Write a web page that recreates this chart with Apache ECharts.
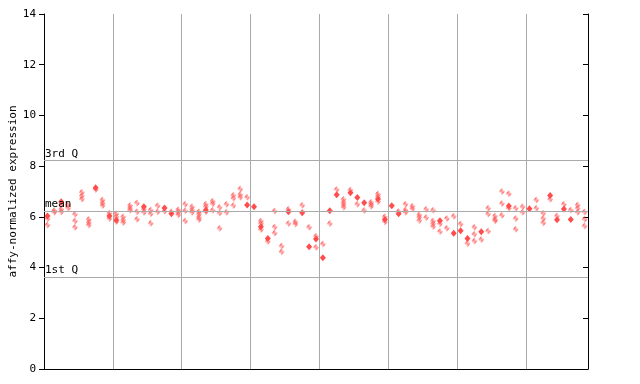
<!DOCTYPE html>
<html><head><meta charset="utf-8">
<script src="https://cdn.jsdelivr.net/npm/echarts@6/dist/echarts.min.js"></script>
<style>html,body{margin:0;padding:0;background:#fff}#c{width:640px;height:384px}</style>
</head><body><div id="c"></div>
<script>
// one entry per sample column (79 columns, 8 groups)
const hatchedValues = [
  [5.93,5.68],[6.25,6.18],[6.48,6.3,6.2],[6.48,6.35],[6.1,5.84,5.59],
  [6.97,6.83,6.7],[5.9,5.78,5.68],[7.08],[6.66,6.55,6.45],[6.14,5.94],
  [6.12,6.0,5.82],[6.0,5.88,5.78],[6.45,6.35,6.26],[6.55,6.2,5.91],[6.3,6.18],
  [6.27,6.12,5.75],[6.44,6.2],[6.22],[6.2],[6.28,6.18,6.08],
  [6.5,6.24,5.84],[6.4,6.28,6.18],[6.2,6.1,5.98,5.9],[6.5,6.4,6.2],[6.62,6.52,6.26],
  [6.38,6.15,5.55],[6.5,6.18],[6.85,6.73,6.45],[7.1,6.88,6.77],[6.77],
  [],[5.84,5.74,5.5],[5.03],[6.23,5.6,5.36],[4.85,4.62],
  [6.3,5.74],[5.81,5.72],[6.46],[5.59],[5.24,4.8],
  [4.93],[5.74],[7.08],[6.69,6.58,6.48,6.38],[7.06],
  [6.5],[6.25],[6.58,6.5,6.42],[6.9,6.8,6.61],[6.0,5.81],
  [],[6.21],[6.5,6.27,6.18],[6.42,6.32],[6.08,5.98,5.86],
  [6.3,5.97],[6.26,5.84,5.73,5.62],[5.73,5.42],[5.94,5.55],[6.02],
  [5.72],[4.95],[5.59,5.31,5.05],[5.11],[6.34,6.11,5.44],
  [6.03,5.91,5.85],[7.0,6.53,6.06],[6.91,6.34],[6.34,5.94,5.51],[6.4,6.18],
  [],[6.66,6.34],[6.14,5.94,5.77],[6.69],[6.03],
  [6.5],[6.27],[6.47,6.34,6.18],[6.19,5.91,5.64]
];
const solidValues = [
  [6.03],[],[6.6],[],[],
  [],[],[7.15],[],[6.03],
  [5.88],[],[],[],[6.4],
  [],[],[6.35],[6.12],[],
  [],[],[],[6.27],[],
  [],[],[],[],[6.47],
  [6.4],[5.61],[5.15],[],[],
  [6.2],[],[6.16],[4.82],[5.13],
  [4.39],[6.24],[6.87],[],[6.95],
  [6.76],[6.56],[],[6.7],[5.9],
  [6.44],[6.12],[],[],[],
  [],[],[5.85],[],[5.35],
  [5.45],[5.15],[],[5.41],[],
  [],[],[6.43],[],[],
  [6.32],[],[],[6.84],[5.89],
  [6.31],[5.9],[],[]
];
const columnCount = 79;
const groupSize = 10;
const yMin = 0, yMax = 14, yStep = 2;
const refLines = [
  {name: '3rd Q', value: 8.23},
  {name: 'mean', value: 6.23},
  {name: '1st Q', value: 3.63}
];
const yTitle = 'affy-normalized expression';

const RED = '#ff4d4d';
const FONT = 'DejaVu Sans Mono';
const FS = 11;

function toPoints(cols) {
  const out = [];
  cols.forEach((vals, i) => vals.forEach(v => out.push([i + 0.5, v])));
  return out;
}
const cv = document.createElement('canvas');
cv.width = 2; cv.height = 2;
const cx = cv.getContext('2d');
cx.fillStyle = RED;
cx.fillRect(0, 0, 1, 1);
cx.fillRect(1, 1, 1, 1);

const chart = echarts.init(document.getElementById('c'), null, {renderer: 'canvas'});
chart.setOption({
  animation: false,
  backgroundColor: '#fff',
  grid: {left: 44, right: 52, top: 14, bottom: 15, containLabel: false, outerBoundsMode: 'none'},
  xAxis: {
    type: 'value', min: 0, max: columnCount, interval: groupSize,
    axisLine: {show: true, lineStyle: {color: '#000', width: 1}},
    axisTick: {show: false}, axisLabel: {show: false},
    splitLine: {show: true, showMinLine: false, showMaxLine: false, lineStyle: {color: '#aaaaaa', width: 1}}
  },
  yAxis: [
    {
      type: 'value', min: yMin, max: yMax, interval: yStep, position: 'left',
      name: yTitle, nameLocation: 'middle', nameGap: 25, nameMoveOverlap: false,
      nameTextStyle: {fontFamily: FONT, fontSize: FS, color: '#000'},
      axisLine: {show: true, lineStyle: {color: '#000', width: 1}},
      axisTick: {show: true, length: 5, lineStyle: {color: '#000'}},
      axisLabel: {show: true, margin: 8, fontFamily: FONT, fontSize: FS, color: '#000'},
      splitLine: {show: false}
    },
    {
      type: 'value', min: yMin, max: yMax, interval: yStep, position: 'right',
      axisLine: {show: true, lineStyle: {color: '#000', width: 1}},
      axisTick: {show: true, inside: true, length: 5, lineStyle: {color: '#000'}},
      axisLabel: {show: false}, splitLine: {show: false}
    }
  ],
  series: [
    {
      type: 'scatter', yAxisIndex: 0, symbol: 'diamond', symbolSize: [6, 7],
      data: toPoints(hatchedValues),
      itemStyle: {color: {image: cv, repeat: 'repeat'}, opacity: 1},
      silent: true,
      markLine: {
        silent: true, symbol: 'none', animation: false,
        lineStyle: {color: '#aaaaaa', width: 1, type: 'solid'},
        label: {show: true, position: 'insideStartTop', formatter: '{b}', distance: 1,
          fontFamily: FONT, fontSize: FS, color: '#000'},
        data: refLines.map(r => ({name: r.name, yAxis: r.value}))
      }
    },
    {
      type: 'scatter', yAxisIndex: 0, symbol: 'diamond', symbolSize: [6, 7],
      data: toPoints(solidValues),
      itemStyle: {color: RED, opacity: 1},
      silent: true
    }
  ]
});
</script></body></html>
